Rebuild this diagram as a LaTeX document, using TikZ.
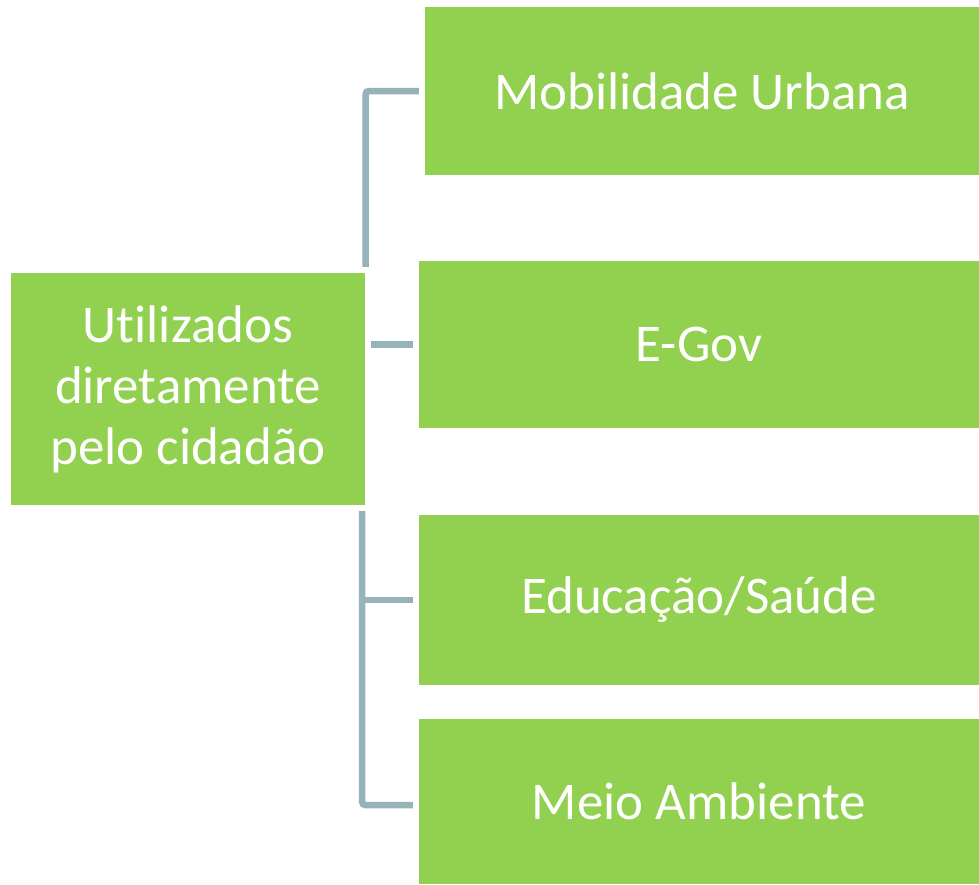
\documentclass[tikz,border=0pt]{standalone}
\usepackage{fontspec}
\setmainfont{Carlito}[Ligatures=NoCommon]
\definecolor{boxgreen}{RGB}{146,208,80}
\definecolor{linkgray}{RGB}{149,179,184}
\begin{document}
\begin{tikzpicture}[x=1pt,y=-1pt,
  gbox/.style={fill=boxgreen,draw=none,inner sep=0pt,text=white,align=center,
    font=\fontsize{53}{61}\selectfont},
  link/.style={draw=linkgray,line width=6.5pt,rounded corners=3pt}]
\useasboundingbox (0,0) rectangle (979,884);
\node[gbox,minimum width=354pt,minimum height=232pt] (L) at (188,389) {Utilizados\\diretamente\\pelo cidadão};
\node[gbox,minimum width=554pt,minimum height=168pt] (A) at (702,91) {Mobilidade Urbana};
\node[gbox,minimum width=560pt,minimum height=167pt] (B) at (699,344.5) {E-Gov};
\node[gbox,minimum width=560pt,minimum height=170pt] (C) at (699,600) {Educação/Saúde};
\node[gbox,minimum width=560pt,minimum height=165pt] (D) at (699,801.5) {Meio Ambiente};
% connector to A
\coordinate (a1) at ([xshift=0.5pt,yshift=6pt]L.north east);
\coordinate (a2) at ([xshift=-6pt]A.west);
\draw[link] (a1) -- (a1 |- a2) -- (a2);
% connector to B
\coordinate (b1) at ([xshift=6pt]L.east |- B.west);
\coordinate (b2) at ([xshift=-6pt]B.west);
\draw[link] (b1) -- (b2);
% connectors to C and D
\coordinate (c1) at ([xshift=-3pt,yshift=-6pt]L.south east);
\coordinate (c2) at ([xshift=-6pt]C.west);
\coordinate (d2) at ([xshift=-6pt,yshift=-3.5pt]D.west);
\draw[link] (c1) -- (c1 |- d2) -- (d2);
\draw[link,rounded corners=0pt] (c1 |- c2) -- (c2);
\end{tikzpicture}
\end{document}
